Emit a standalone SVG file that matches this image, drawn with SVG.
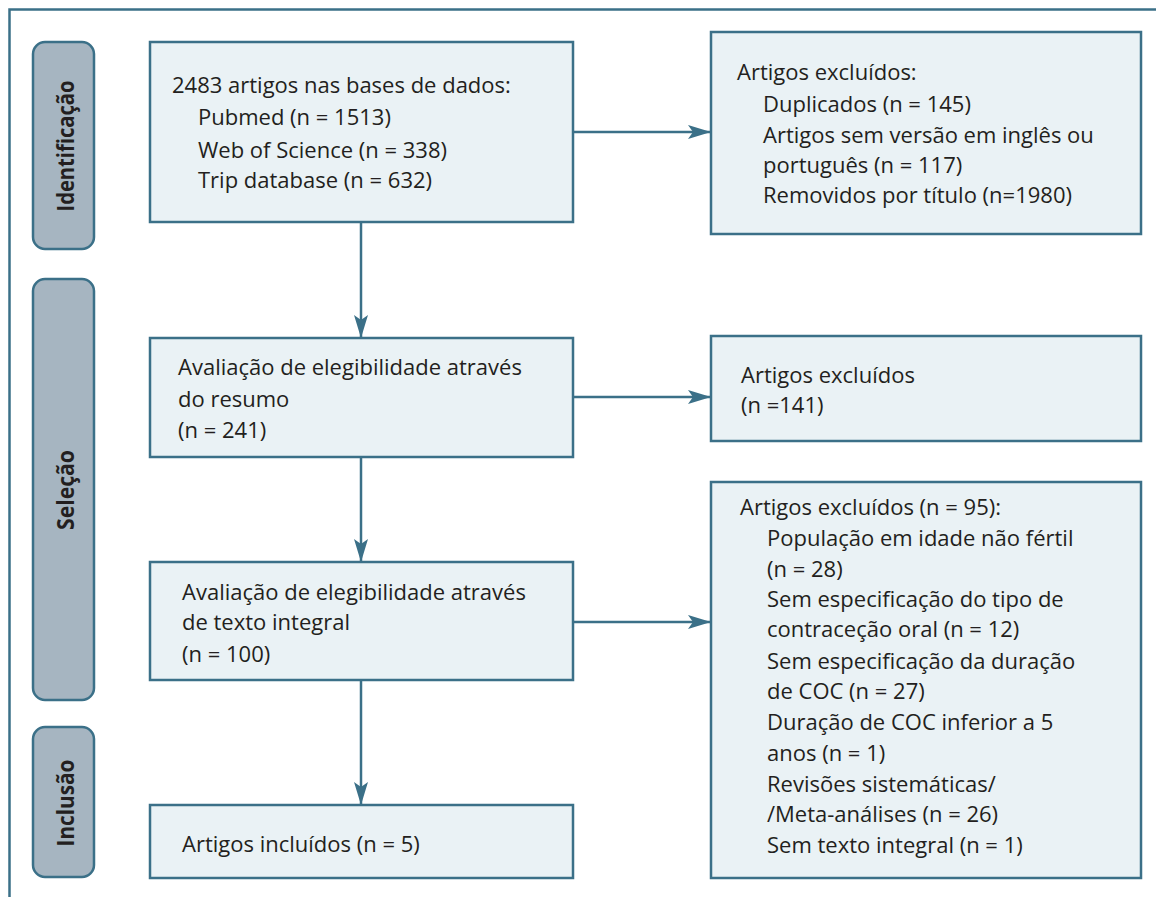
<svg xmlns="http://www.w3.org/2000/svg" width="1156" height="897" viewBox="0 0 1156 897">
<style>
.frame{stroke:#3b7088;stroke-width:2.5;fill:none}
.lab{fill:#a6b5c1;stroke:#3b7088;stroke-width:2.5}
.box{fill:#eaf2f5;stroke:#3b7088;stroke-width:2.5}
.lt{font-family:"Open Sans","DejaVu Sans",sans-serif;font-weight:bold;font-size:24px;fill:#231f20;text-anchor:middle}
.t{font-family:"Open Sans","DejaVu Sans",sans-serif;font-size:22px;fill:#231f20}
.con{stroke:#3b7088;stroke-width:2.5;fill:none;marker-end:url(#ah)}
</style>
<defs>
<marker id="ah" markerUnits="userSpaceOnUse" markerWidth="26" markerHeight="16" refX="23" refY="7" orient="auto" viewBox="0 0 26 16">
<path d="M0,0 L23,7 L0,14 L5,7 Z" fill="#3b7088"/>
</marker>
</defs>
<rect width="1156" height="897" fill="#ffffff"/>
<path class="frame" d="M9.5,897 V9.5 H1156"/>
<g id="lab-identificacao">
<rect class="lab" x="33" y="42" width="61" height="207" rx="12"/>
<text class="lt" transform="translate(74,146) rotate(-90)" textLength="131" lengthAdjust="spacingAndGlyphs">Identificação</text>
</g>
<g id="lab-selecao">
<rect class="lab" x="33" y="279" width="61" height="421" rx="12"/>
<text class="lt" transform="translate(74,490) rotate(-90)" textLength="80" lengthAdjust="spacingAndGlyphs">Seleção</text>
</g>
<g id="lab-inclusao">
<rect class="lab" x="33" y="727" width="61" height="150" rx="12"/>
<text class="lt" transform="translate(74,803) rotate(-90)" textLength="87" lengthAdjust="spacingAndGlyphs">Inclusão</text>
</g>
<g id="connectors">
<line class="con" x1="361" y1="222" x2="361" y2="338"/>
<line class="con" x1="361" y1="457" x2="361" y2="562"/>
<line class="con" x1="361" y1="680" x2="361" y2="805"/>
<line class="con" x1="573" y1="132" x2="711" y2="132"/>
<line class="con" x1="573" y1="397" x2="711" y2="397"/>
<line class="con" x1="573" y1="622" x2="711" y2="622"/>
</g>
<g id="n-bases">
<rect class="box" x="150" y="42" width="423" height="180"/>
<text class="t" x="172" y="93">2483 artigos nas bases de dados:</text>
<text class="t" x="198" y="125">Pubmed (n = 1513)</text>
<text class="t" x="198" y="158">Web of Science (n = 338)</text>
<text class="t" x="198" y="188">Trip database (n = 632)</text>
</g>
<g id="n-excl1">
<rect class="box" x="711" y="32" width="430" height="202"/>
<text class="t" x="737" y="80">Artigos excluídos:</text>
<text class="t" x="763" y="112">Duplicados (n = 145)</text>
<text class="t" x="763" y="143">Artigos sem versão em inglês ou</text>
<text class="t" x="763" y="173">português (n = 117)</text>
<text class="t" x="763" y="203">Removidos por título (n=1980)</text>
</g>
<g id="n-resumo">
<rect class="box" x="150" y="338" width="423" height="119"/>
<text class="t" x="178" y="375">Avaliação de elegibilidade através</text>
<text class="t" x="178" y="407">do resumo</text>
<text class="t" x="178" y="438">(n = 241)</text>
</g>
<g id="n-excl2">
<rect class="box" x="711" y="336" width="430" height="105"/>
<text class="t" x="741" y="383">Artigos excluídos</text>
<text class="t" x="741" y="413">(n =141)</text>
</g>
<g id="n-texto">
<rect class="box" x="150" y="562" width="423" height="118"/>
<text class="t" x="182" y="600">Avaliação de elegibilidade através</text>
<text class="t" x="182" y="630">de texto integral</text>
<text class="t" x="182" y="662">(n = 100)</text>
</g>
<g id="n-excl3">
<rect class="box" x="711" y="482" width="430" height="396"/>
<text class="t" x="740" y="515">Artigos excluídos (n = 95):</text>
<text class="t" x="767" y="546">População em idade não fértil</text>
<text class="t" x="767" y="577">(n = 28)</text>
<text class="t" x="767" y="607">Sem especificação do tipo de</text>
<text class="t" x="767" y="637">contraceção oral (n = 12)</text>
<text class="t" x="767" y="669">Sem especificação da duração</text>
<text class="t" x="767" y="699">de COC (n = 27)</text>
<text class="t" x="767" y="730">Duração de COC inferior a 5</text>
<text class="t" x="767" y="761">anos (n = 1)</text>
<text class="t" x="767" y="792">Revisões sistemáticas/</text>
<text class="t" x="767" y="822">/Meta-análises (n = 26)</text>
<text class="t" x="767" y="853">Sem texto integral (n = 1)</text>
</g>
<g id="n-incl">
<rect class="box" x="150" y="805" width="423" height="73"/>
<text class="t" x="182" y="852">Artigos incluídos (n = 5)</text>
</g>
</svg>
